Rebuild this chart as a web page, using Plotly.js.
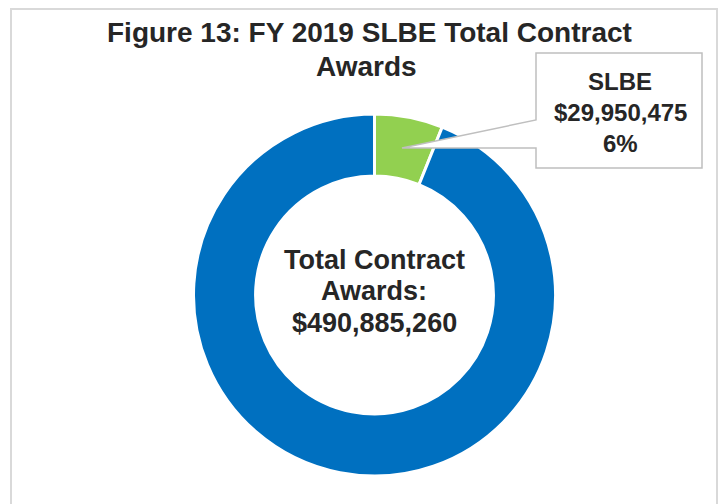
<!DOCTYPE html>
<html>
<head>
<meta charset="utf-8">
<script src="https://cdn.plot.ly/plotly-3.0.1.min.js"></script>
<style>
html,body{margin:0;padding:0;background:#fff;}
#chart{width:721px;height:504px;}
</style>
</head>
<body>
<div id="chart"></div>
<script>
var categories = ["SLBE", "Other Contract Awards"];
var values = [29950475, 460934785];
var colors = ["#92D050", "#0070C0"];
var totalAwards = 490885260;
var titleLines = ["Figure 13: FY 2019 SLBE Total Contract", "Awards"];
var centerLines = ["Total Contract", "Awards:"];

function fmt(n){ return "$" + n.toLocaleString("en-US"); }
var W = 721, H = 504;
function px(x){ return x / W; }
function py(y){ return 1 - y / H; }

var pct = Math.round(values[0] / totalAwards * 100);

var trace = {
  type: "pie",
  labels: categories,
  values: values,
  hole: 0.657,
  sort: false,
  direction: "clockwise",
  rotation: 0,
  textinfo: "none",
  hoverinfo: "label+value+percent",
  marker: { colors: colors, line: { color: "#ffffff", width: 3 } },
  domain: { x: [px(193.5), px(555.5)], y: [py(476), py(114)] },
  showlegend: false
};

var fam = "Liberation Sans, Arial, sans-serif";
var col = "#262626";

function textLine(txt, x, y, size){
  return { xref: "paper", yref: "paper", x: px(x), y: py(y),
    xanchor: "center", yanchor: "middle", showarrow: false,
    text: "<b>" + txt + "</b>",
    font: { family: fam, size: size, color: col } };
}

var annotations = [];
annotations.push(textLine(titleLines[0], 369, 33, 28));
annotations.push(textLine(titleLines[1], 366, 67, 28));
annotations.push(textLine(centerLines[0], 374, 260, 27));
annotations.push(textLine(centerLines[1], 374, 291, 27));
annotations.push(textLine(fmt(totalAwards), 374, 323, 27));
annotations.push(textLine(categories[0], 620, 82, 24));
annotations.push(textLine(fmt(values[0]), 620, 113, 24));
annotations.push(textLine(pct + "%", 620, 143, 24));

var layout = {
  width: W, height: H,
  margin: { l: 0, r: 0, t: 0, b: 0 },
  paper_bgcolor: "#ffffff",
  showlegend: false,
  shapes: [
    { type: "rect", xref: "paper", yref: "paper",
      x0: px(11), x1: px(717), y0: py(9), y1: py(510),
      line: { color: "#d9d9d9", width: 2 }, fillcolor: "rgba(0,0,0,0)" },
    { type: "path", xref: "paper", yref: "paper",
      path: "M " + px(536) + " " + py(53) +
            " L " + px(702) + " " + py(53) +
            " L " + px(702) + " " + py(168) +
            " L " + px(536) + " " + py(168) +
            " L " + px(536) + " " + py(148) +
            " L " + px(402) + " " + py(148) +
            " L " + px(536) + " " + py(120) + " Z",
      line: { color: "#bfbfbf", width: 1.5 }, fillcolor: "#ffffff" }
  ],
  annotations: annotations
};

Plotly.newPlot("chart", [trace], layout, { displayModeBar: false, staticPlot: true });
</script>
</body>
</html>
